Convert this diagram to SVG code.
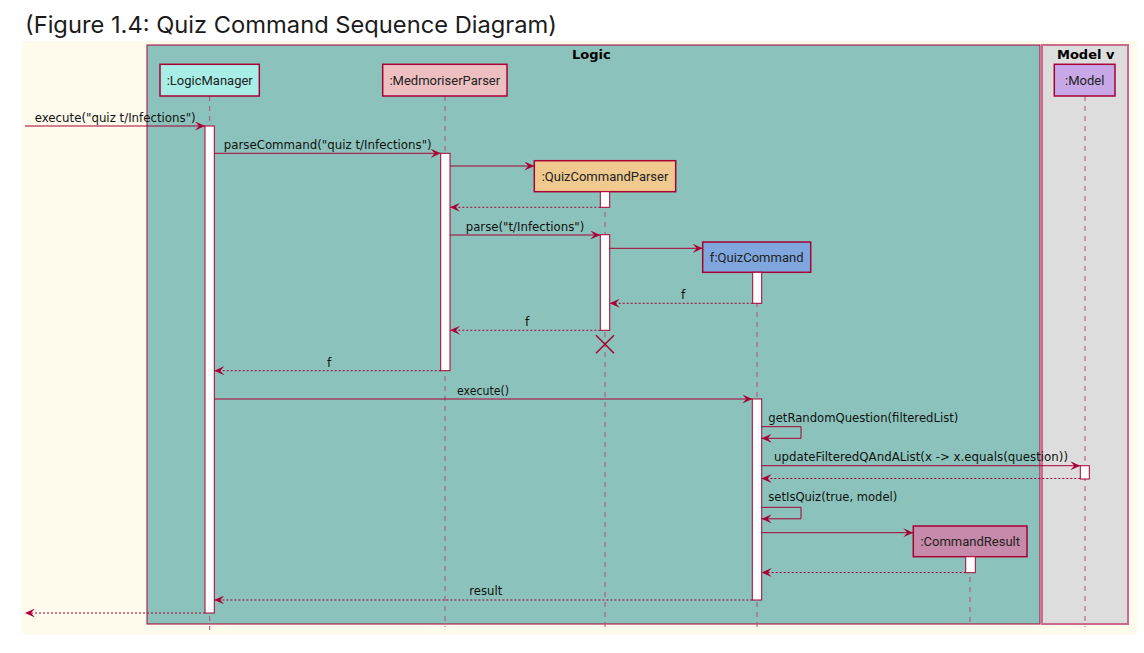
<svg xmlns="http://www.w3.org/2000/svg" width="1144" height="653" viewBox="0 0 1144 653">
<style>
.title{font-family:Inter,"Liberation Sans",sans-serif;font-size:23px;fill:#1b1b1b}
.hdr{font-family:"DejaVu Sans",sans-serif;font-weight:bold;font-size:13px;fill:#000}
.pbox{stroke:#A80036;stroke-width:1.5}
.plabel{font-family:Roboto,"Liberation Sans",sans-serif;font-size:13px;fill:#222;text-anchor:middle}
.life{stroke:#B14E7C;stroke-width:1;stroke-dasharray:5,5;fill:none}
.act{fill:#fff;stroke:#A80036;stroke-width:1}
.msg{stroke:#A80036;stroke-width:1;fill:none;marker-end:url(#ah)}
.ret{stroke:#A80036;stroke-width:1;fill:none;stroke-dasharray:2,2;marker-end:url(#ah)}
.mtext{font-family:"DejaVu Sans",sans-serif;font-size:12.2px;fill:#111}
</style>
<defs>
<marker id="ah" markerUnits="userSpaceOnUse" markerWidth="11" markerHeight="9" refX="10" refY="4.5" orient="auto">
<path d="M0,0 L10,4.5 L0,9 L4,4.5 Z" fill="#A80036"/>
</marker>
</defs>
<rect x="0" y="0" width="1144" height="653" fill="#fff"/>
<text class="title" x="25" y="33" textLength="532" lengthAdjust="spacingAndGlyphs">(Figure 1.4: Quiz Command Sequence Diagram)</text>
<rect x="22" y="41" width="1115" height="594" fill="#FEFAEC"/>
<g id="frame-logic">
<rect x="147" y="45" width="893" height="579" fill="#8BC3BC" stroke="#A80036" stroke-width="1"/>
<text class="hdr" x="572" y="58.5">Logic</text>
</g>
<g id="frame-model">
<rect x="1042" y="45" width="86" height="579" fill="#DDDDDD" stroke="#CC6A8E" stroke-width="2"/>
<text class="hdr" x="1057" y="58.5">Model v</text>
</g>
<g id="lifelines">
<line class="life" x1="209.7" y1="96" x2="209.7" y2="630"/>
<line class="life" x1="445" y1="96" x2="445" y2="627"/>
<line class="life" x1="605" y1="192" x2="605" y2="627"/>
<line class="life" x1="757" y1="272" x2="757" y2="627"/>
<line class="life" x1="970" y1="557" x2="970" y2="627"/>
<line class="life" x1="1085" y1="96" x2="1085" y2="627"/>
</g>
<g id="LogicManager">
<rect class="pbox" x="160" y="64.3" width="99.3" height="31.7" fill="#A8EDE6"/>
<text class="plabel" x="209.7" y="84.8">:LogicManager</text>
<rect class="act" x="205" y="126" width="9.3" height="487"/>
</g>
<g id="MedmoriserParser">
<rect class="pbox" x="382.7" y="64.3" width="124.3" height="31.7" fill="#EDBFC0"/>
<text class="plabel" x="444.8" y="84.8">:MedmoriserParser</text>
<rect class="act" x="440.7" y="153.3" width="9.3" height="217.4"/>
</g>
<g id="QuizCommandParser">
<rect class="pbox" x="534.3" y="160.7" width="141.4" height="31" fill="#F0C98F"/>
<text class="plabel" x="605" y="180.8">:QuizCommandParser</text>
<rect class="act" x="600.3" y="191.7" width="9.4" height="15.6"/>
<rect class="act" x="600.3" y="234.7" width="9.4" height="95.6"/>
<path d="M596,335.3 L614,353.3 M614,335.3 L596,353.3" stroke="#A80036" stroke-width="1.5" fill="none"/>
</g>
<g id="QuizCommand">
<rect class="pbox" x="702.7" y="242" width="108" height="30.3" fill="#7FA7DE"/>
<text class="plabel" x="756.7" y="261.7">f:QuizCommand</text>
<rect class="act" x="752.7" y="272.3" width="9" height="31"/>
<rect class="act" x="752.3" y="399" width="9.4" height="201"/>
</g>
<g id="Model">
<rect class="pbox" x="1054.3" y="64.3" width="60.7" height="31.7" fill="#C8A8E6"/>
<text class="plabel" x="1084.7" y="84.8">:Model</text>
<rect class="act" x="1080.3" y="465.7" width="9" height="13.3"/>
</g>
<g id="CommandResult">
<rect class="pbox" x="913.3" y="526" width="113.7" height="30.7" fill="#C88AAA"/>
<text class="plabel" x="970.2" y="545.9">:CommandResult</text>
<rect class="act" x="965.7" y="556.7" width="9.6" height="16"/>
</g>
<g id="connectors">
<line class="msg" x1="25" y1="126" x2="205" y2="126"/>
<line class="msg" x1="214.3" y1="153.3" x2="440.7" y2="153.3"/>
<line class="msg" x1="450" y1="166" x2="534.3" y2="166"/>
<line class="ret" x1="600.3" y1="207.3" x2="450" y2="207.3"/>
<line class="msg" x1="450" y1="235" x2="600.3" y2="235"/>
<line class="msg" x1="609.7" y1="248.3" x2="702.7" y2="248.3"/>
<line class="ret" x1="752.7" y1="303.3" x2="609.7" y2="303.3"/>
<line class="ret" x1="600.3" y1="330.3" x2="450" y2="330.3"/>
<line class="ret" x1="440.7" y1="370.7" x2="214.3" y2="370.7"/>
<line class="msg" x1="214.3" y1="399" x2="752.3" y2="399"/>
<polyline class="msg" points="761.7,426.7 801,426.7 801,438.3 761.7,438.3"/>
<line class="msg" x1="761.7" y1="465.7" x2="1080.3" y2="465.7"/>
<line class="ret" x1="1080.3" y1="478.5" x2="761.7" y2="478.5"/>
<polyline class="msg" points="761.7,507.3 801,507.3 801,518.8 761.7,518.8"/>
<line class="msg" x1="761.7" y1="532.7" x2="913.3" y2="532.7"/>
<line class="ret" x1="965.7" y1="572.5" x2="761.7" y2="572.5"/>
<line class="ret" x1="752.3" y1="600" x2="214.3" y2="600"/>
<line class="ret" x1="205" y1="613" x2="25" y2="613"/>
</g>
<g id="labels">
<text class="mtext" x="34.7" y="121.5" textLength="161" lengthAdjust="spacingAndGlyphs">execute("quiz t/Infections")</text>
<text class="mtext" x="223.7" y="149" textLength="208" lengthAdjust="spacingAndGlyphs">parseCommand("quiz t/Infections")</text>
<text class="mtext" x="465.7" y="230.5" textLength="118.6" lengthAdjust="spacingAndGlyphs">parse("t/Infections")</text>
<text class="mtext" x="681" y="299">f</text>
<text class="mtext" x="525" y="326">f</text>
<text class="mtext" x="327" y="366.5">f</text>
<text class="mtext" x="457" y="394.5" textLength="52" lengthAdjust="spacingAndGlyphs">execute()</text>
<text class="mtext" x="768.3" y="421.5" textLength="190" lengthAdjust="spacingAndGlyphs">getRandomQuestion(filteredList)</text>
<text class="mtext" x="774" y="461" textLength="294" lengthAdjust="spacingAndGlyphs">updateFilteredQAndAList(x -&gt; x.equals(question))</text>
<text class="mtext" x="768.3" y="500.7" textLength="129" lengthAdjust="spacingAndGlyphs">setIsQuiz(true, model)</text>
<text class="mtext" x="469.3" y="595" textLength="33" lengthAdjust="spacingAndGlyphs">result</text>
</g>
</svg>
